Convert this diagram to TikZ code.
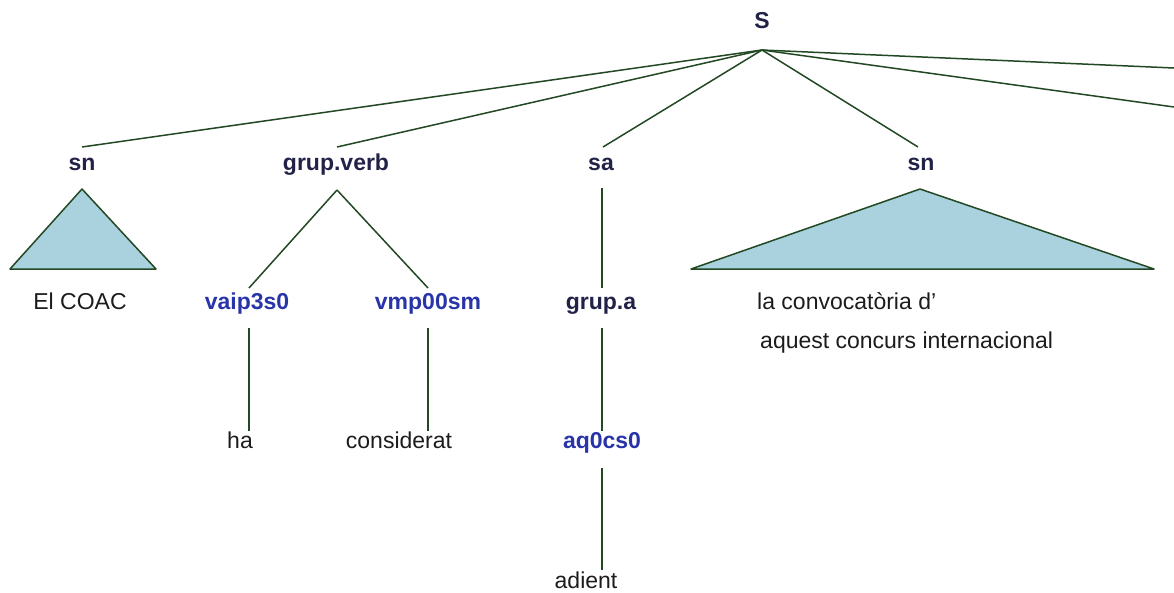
\documentclass[tikz,border=0pt]{standalone}
\usepackage{fontspec}
\setmainfont{Liberation Sans}
\definecolor{linecol}{RGB}{34,72,36}
\definecolor{catcol}{RGB}{34,34,72}
\definecolor{tagcol}{RGB}{40,52,168}
\definecolor{wordcol}{RGB}{28,28,28}
\definecolor{trifill}{RGB}{170,210,222}
\begin{document}
\begin{tikzpicture}[x=1pt,y=-1pt,
  cat/.style={font=\fontsize{23}{27}\selectfont\bfseries, text=catcol, anchor=base, inner sep=0pt},
  tag/.style={font=\fontsize{23}{27}\selectfont\bfseries, text=tagcol, anchor=base, inner sep=0pt},
  word/.style={font=\fontsize{23}{27}\selectfont, text=wordcol, anchor=base, inner sep=0pt},
  wordl/.style={word, anchor=base west},
  edge/.style={draw=linecol, line width=1.5pt},
  tri/.style={draw=linecol, fill=trifill, line width=1.5pt, line join=round}]
\useasboundingbox (0,0) rectangle (1174,592);
% labels
\node[cat] (S) at (762,28) {S};
\node[cat] (sn1) at (82,170) {sn};
\node[cat] (gv) at (336,170) {grup.verb};
\node[cat] (sa) at (601,170) {sa};
\node[cat] (sn2) at (921,170) {sn};
\node[word] (coac) at (80,309) {El COAC};
\node[tag] (vaip) at (247,309) {vaip3s0};
\node[tag] (vmp) at (428,309) {vmp00sm};
\node[cat] (ga) at (601,309) {grup.a};
\node[wordl] (conv1) at (757,309) {la convocatòria d’};
\node[wordl] (conv2) at (760,348) {aquest concurs internacional};
\node[word] (ha) at (240,448) {ha};
\node[word] (cons) at (399,448) {considerat};
\node[tag] (aq) at (602,448) {aq0cs0};
\node[word] (adient) at (586,588) {adient};
% connector points
\coordinate (S-root) at (762,50);
\coordinate (sn1-top) at (82,147);
\coordinate (gv-top) at (337,147);
\coordinate (sa-top) at (603,147);
\coordinate (sn2-top) at (918,147);
\coordinate (r1) at (1174,68);
\coordinate (r2) at (1174,107);
\coordinate (gv-bot) at (337,190);
\coordinate (vaip-top) at (249,288);
\coordinate (vmp-top) at (428,288);
\coordinate (vaip-bot) at (249,328);
\coordinate (ha-top) at (249,431);
\coordinate (vmp-bot) at (428,328);
\coordinate (cons-top) at (428,431);
\coordinate (sa-bot) at (602,188);
\coordinate (ga-top) at (602,288);
\coordinate (ga-bot) at (602,328);
\coordinate (aq-top) at (602,431);
\coordinate (aq-bot) at (602,468);
\coordinate (adient-top) at (602,570);
% triangles
\coordinate (t1a) at (82,189);
\coordinate (t1l) at (10,269);
\coordinate (t1r) at (156,269);
\coordinate (t2a) at (920,189);
\coordinate (t2l) at (691,269);
\coordinate (t2r) at (1154,269);
\draw[tri] (t1a) -- (t1l) -- (t1r) -- cycle;
\draw[tri] (t2a) -- (t2l) -- (t2r) -- cycle;
% edges
\draw[edge] (S-root) -- (sn1-top);
\draw[edge] (S-root) -- (gv-top);
\draw[edge] (S-root) -- (sa-top);
\draw[edge] (S-root) -- (sn2-top);
\draw[edge] (S-root) -- (r1);
\draw[edge] (S-root) -- (r2);
\draw[edge] (gv-bot) -- (vaip-top);
\draw[edge] (gv-bot) -- (vmp-top);
\draw[edge] (vaip-bot) -- (ha-top);
\draw[edge] (vmp-bot) -- (cons-top);
\draw[edge] (sa-bot) -- (ga-top);
\draw[edge] (ga-bot) -- (aq-top);
\draw[edge] (aq-bot) -- (adient-top);
\end{tikzpicture}
\end{document}
